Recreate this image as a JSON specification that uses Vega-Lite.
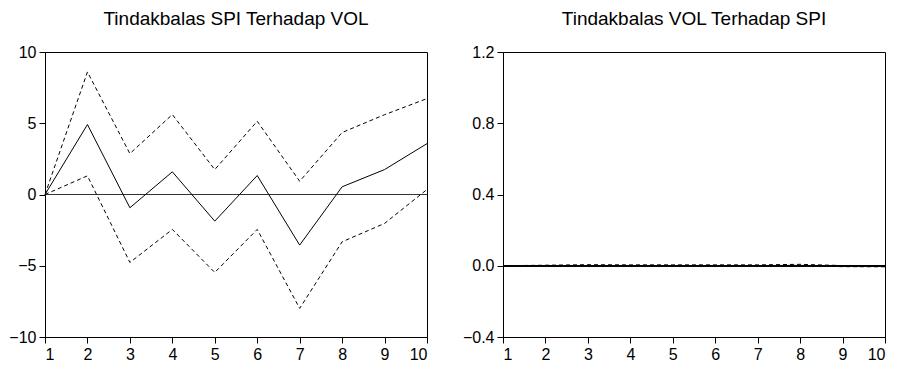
{
  "$schema": "https://vega.github.io/schema/vega-lite/v6.json",
  "padding": {"left": 8, "top": 9, "right": 5, "bottom": 0},
  "background": "white",
  "config": {
    "font": "Liberation Sans",
    "view": {"stroke": "black", "strokeWidth": 1},
    "axis": {"grid": false, "domainColor": "black", "tickColor": "black", "labelColor": "black", "labelFont": "Liberation Sans", "labelFontSize": 16, "tickSize": 6, "labelPadding": 3, "title": null},
    "title": {"font": "Liberation Sans", "fontSize": 19, "fontWeight": "normal", "color": "black", "offset": 15},
    "concat": {"spacing": 31}
  },
  "datasets": {
    "left": [
      {"step": 1, "resp": 0, "upper": 0, "lower": 0},
      {"step": 2, "resp": 4.91, "upper": 8.6, "lower": 1.31},
      {"step": 3, "resp": -0.93, "upper": 2.87, "lower": -4.77},
      {"step": 4, "resp": 1.59, "upper": 5.61, "lower": -2.45},
      {"step": 5, "resp": -1.87, "upper": 1.75, "lower": -5.47},
      {"step": 6, "resp": 1.33, "upper": 5.14, "lower": -2.45},
      {"step": 7, "resp": -3.55, "upper": 0.93, "lower": -7.99},
      {"step": 8, "resp": 0.54, "upper": 4.35, "lower": -3.32},
      {"step": 9, "resp": 1.75, "upper": 5.6, "lower": -2.03},
      {"step": 10, "resp": 3.57, "upper": 6.73, "lower": 0.35}
    ],
    "right": [
      {"step": 1, "resp": 0, "upper": 0, "lower": 0},
      {"step": 2, "resp": 0.0005, "upper": 0.003, "lower": -0.001},
      {"step": 3, "resp": 0.001, "upper": 0.006, "lower": -0.001},
      {"step": 4, "resp": 0.001, "upper": 0.005, "lower": -0.001},
      {"step": 5, "resp": 0.001, "upper": 0.005, "lower": -0.001},
      {"step": 6, "resp": 0.001, "upper": 0.005, "lower": -0.001},
      {"step": 7, "resp": 0.001, "upper": 0.005, "lower": -0.001},
      {"step": 8, "resp": 0.002, "upper": 0.008, "lower": -0.001},
      {"step": 9, "resp": -0.001, "upper": 0.001, "lower": -0.005},
      {"step": 10, "resp": -0.002, "upper": -0.001, "lower": -0.006}
    ]
  },
  "hconcat": [
    {
      "title": "Tindakbalas SPI Terhadap VOL",
      "width": 382,
      "height": 285,
      "data": {"name": "left"},
      "layer": [
        {"mark": {"type": "rule", "color": "#333333", "strokeWidth": 1}, "encoding": {"y": {"datum": 0, "type": "quantitative"}}},
        {"mark": {"type": "line", "color": "black", "strokeWidth": 1}, "encoding": {
          "x": {"field": "step", "type": "quantitative", "scale": {"domain": [1, 10], "nice": false}, "axis": {"values": [1,2,3,4,5,6,7,8,9,10]}},
          "y": {"field": "resp", "type": "quantitative", "scale": {"domain": [-10, 10], "nice": false}, "axis": {"values": [-10,-5,0,5,10]}}}},
        {"mark": {"type": "line", "color": "black", "strokeWidth": 1, "strokeDash": [4, 3]}, "encoding": {
          "x": {"field": "step", "type": "quantitative"},
          "y": {"field": "upper", "type": "quantitative"}}},
        {"mark": {"type": "line", "color": "black", "strokeWidth": 1, "strokeDash": [4, 3]}, "encoding": {
          "x": {"field": "step", "type": "quantitative"},
          "y": {"field": "lower", "type": "quantitative"}}}
      ]
    },
    {
      "title": "Tindakbalas VOL Terhadap SPI",
      "width": 382,
      "height": 285,
      "data": {"name": "right"},
      "layer": [
        {"mark": {"type": "rule", "color": "black", "strokeWidth": 1}, "encoding": {"y": {"datum": 0, "type": "quantitative"}}},
        {"mark": {"type": "line", "color": "black", "strokeWidth": 1}, "encoding": {
          "x": {"field": "step", "type": "quantitative", "scale": {"domain": [1, 10], "nice": false}, "axis": {"values": [1,2,3,4,5,6,7,8,9,10]}},
          "y": {"field": "resp", "type": "quantitative", "scale": {"domain": [-0.4, 1.2], "nice": false}, "axis": {"values": [-0.4, 0, 0.4, 0.8, 1.2], "format": ".1f"}}}},
        {"mark": {"type": "line", "color": "black", "strokeWidth": 1, "strokeDash": [4, 3]}, "encoding": {
          "x": {"field": "step", "type": "quantitative"},
          "y": {"field": "upper", "type": "quantitative"}}},
        {"mark": {"type": "line", "color": "black", "strokeWidth": 1, "strokeDash": [4, 3]}, "encoding": {
          "x": {"field": "step", "type": "quantitative"},
          "y": {"field": "lower", "type": "quantitative"}}}
      ]
    }
  ]
}
